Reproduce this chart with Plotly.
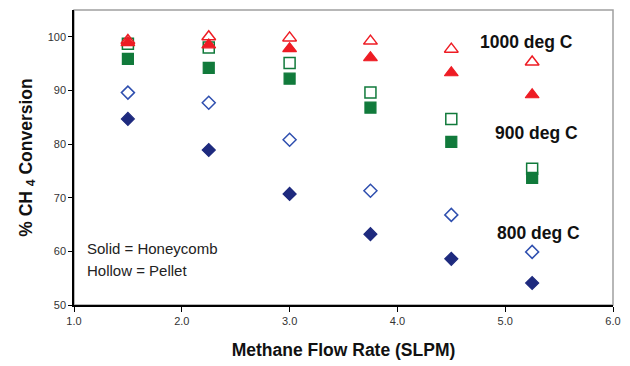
import plotly.graph_objects as go

flow = [1.5, 2.25, 3.0, 3.75, 4.5, 5.25]
t800_solid = [84.7, 78.9, 70.7, 63.2, 58.6, 54.1]
t800_hollow = [89.6, 87.7, 80.8, 71.3, 66.8, 59.9]
t900_solid = [95.9, 94.2, 92.2, 86.8, 80.4, 73.7]
t900_hollow = [98.7, 98.0, 95.1, 89.6, 84.7, 75.4]
t1000_solid = [98.9, 98.5, 97.8, 96.1, 93.3, 89.2]
t1000_hollow = [99.3, 100.0, 99.8, 99.2, 97.7, 95.3]

x_ticks = [1.0, 2.0, 3.0, 4.0, 5.0, 6.0]
y_ticks = [50, 60, 70, 80, 90, 100]

RED = "#EE1C24"
GREEN = "#117A3B"
NAVY = "#1E2A7E"
BLUE = "#2F4FAF"
FONT = "Liberation Sans, Arial"

fig = go.Figure()

def add(y, symbol, color, size, lw=1.2):
    fig.add_trace(go.Scatter(
        x=flow, y=y, mode="markers", showlegend=False, hoverinfo="x+y",
        marker=dict(symbol=symbol, size=size, color=color,
                    line=dict(color=color, width=lw))))

add(t800_hollow, "diamond-open", BLUE, 10, lw=1.5)
add(t800_solid, "diamond", NAVY, 10)
add(t900_hollow, "square-open", GREEN, 11, lw=1.5)
add(t900_solid, "square", GREEN, 11)
add(t1000_hollow, "triangle-up-open", RED, 12, lw=1.5)
add(t1000_solid, "triangle-up", RED, 12)

fig.add_shape(type="rect", xref="x domain", yref="y domain", x0=0, x1=1, y0=0, y1=1,
              line=dict(color="#A0A0A0", width=1.5), layer="below")

bold = dict(family=FONT, size=17.5, color="#111111")
for txt, x, y in [("<b>1000 deg C</b>", 5.20, 99.1),
                  ("<b>900 deg C</b>", 5.29, 82.1),
                  ("<b>800 deg C</b>", 5.31, 63.4)]:
    fig.add_annotation(x=x, y=y, text=txt, showarrow=False, font=bold,
                       xanchor="center", yanchor="middle")

for txt, y in [("Solid = Honeycomb", 60.6), ("Hollow = Pellet", 56.5)]:
    fig.add_annotation(x=1.1, y=y, text=txt, showarrow=False,
                       font=dict(family=FONT, size=15, color="#222222"),
                       xanchor="left", yanchor="middle")

fig.update_xaxes(range=[1.0, 6.0], tickvals=x_ticks,
                 ticktext=[f"{v:.1f}" for v in x_ticks],
                 showgrid=False, zeroline=False, showline=True, linecolor="black", linewidth=1.5,
                 ticks="outside", ticklen=5, tickcolor="black",
                 tickfont=dict(family=FONT, size=11, color="#333333"),
                 title=dict(text="<b>Methane Flow Rate (SLPM)</b>", standoff=18,
                            font=dict(family=FONT, size=17.5, color="#111111")))
fig.update_yaxes(range=[50, 105], tickvals=y_ticks,
                 showgrid=False, zeroline=False, showline=True, linecolor="black", linewidth=1.5,
                 ticks="outside", ticklen=4, tickcolor="black",
                 tickfont=dict(family=FONT, size=11, color="#333333"),
                 title=dict(text="<b>% CH <sub>4</sub> Conversion</b>", standoff=11,
                            font=dict(family=FONT, size=17.5, color="#111111")))

fig.update_layout(width=630, height=366, margin=dict(l=74, r=17, t=10, b=61),
                  plot_bgcolor="white", paper_bgcolor="white")

fig.write_html("out.html", config={"displayModeBar": False},
               post_script="document.body.style.margin='0';document.body.style.padding='0';")
